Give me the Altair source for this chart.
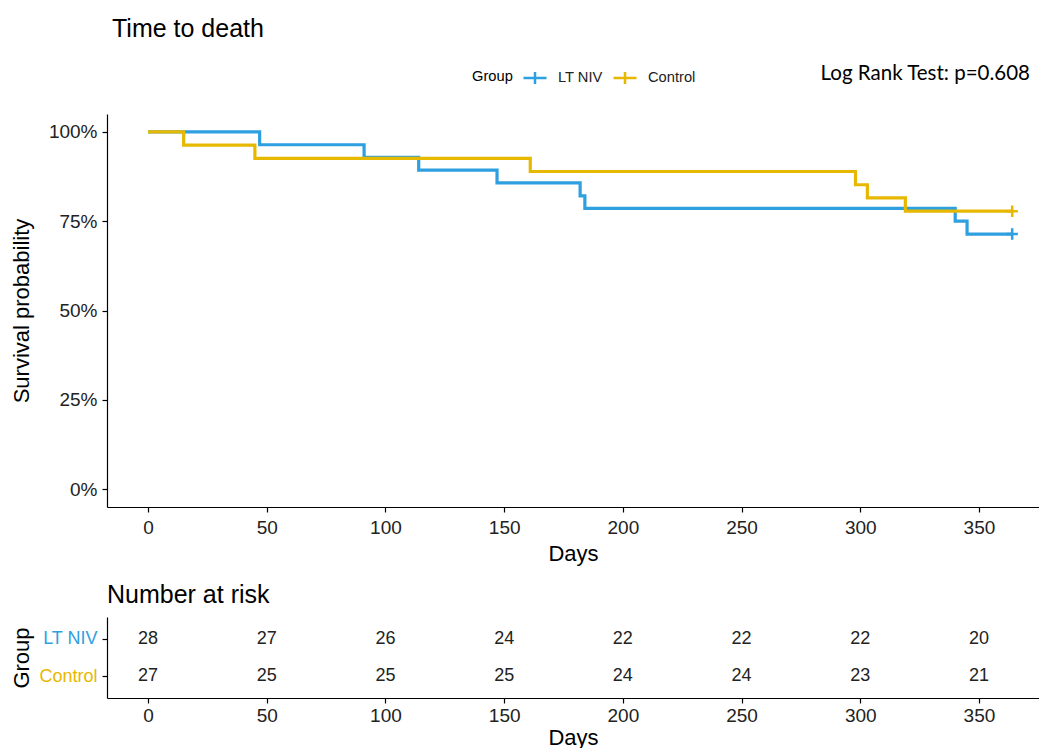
import altair as alt
import pandas as pd

# ---------------- data ----------------
groups = ["LT NIV", "Control"]
group_colors = ["#2E9FDF", "#E7B800"]

lt_days = [0, 47, 91, 114, 147, 182, 184, 340, 345, 364]
lt_surv = [1.0, 0.964, 0.929, 0.893, 0.857, 0.821, 0.786, 0.750, 0.714, 0.714]

ctl_days = [0, 15, 45, 161, 298, 303, 319, 364]
ctl_surv = [1.0, 0.963, 0.926, 0.889, 0.852, 0.815, 0.778, 0.778]

censor_group = ["LT NIV", "Control"]
censor_days = [364, 364]
censor_surv = [0.714, 0.778]

risk_days = [0, 50, 100, 150, 200, 250, 300, 350]
lt_risk = [28, 27, 26, 24, 22, 22, 22, 20]
ctl_risk = [27, 25, 25, 25, 24, 24, 23, 21]

y_ticks = [0, 0.25, 0.5, 0.75, 1.0]
chart_title = "Time to death"
risk_title = "Number at risk"
logrank_label = ["Log Rank Test: p=0.608"]

# ---------------- tables ----------------
curve_df = pd.concat([
    pd.DataFrame({"group": "LT NIV", "days": lt_days, "surv": lt_surv}),
    pd.DataFrame({"group": "Control", "days": ctl_days, "surv": ctl_surv}),
], ignore_index=True)
censor_df = pd.DataFrame({"group": censor_group, "days": censor_days, "surv": censor_surv})
risk_df = pd.concat([
    pd.DataFrame({"group": "LT NIV", "days": risk_days, "n": lt_risk}),
    pd.DataFrame({"group": "Control", "days": risk_days, "n": ctl_risk}),
], ignore_index=True)
note_df = pd.DataFrame({"label": logrank_label})

FONT = "Liberation Sans"
W = 932
x_scale = alt.Scale(domain=[-17.3, 375.3], nice=False, zero=False)
color_scale = alt.Scale(domain=groups, range=group_colors)

def x_axis(label_pad, title_pad):
    return alt.Axis(values=risk_days, title="Days", labelFontSize=19, titleFontSize=22,
                    labelPadding=label_pad, titlePadding=title_pad, tickSize=5, grid=False,
                    titleFontWeight="normal")

lines = alt.Chart(curve_df).mark_line(interpolate="step-after", strokeWidth=3.2).encode(
    x=alt.X("days:Q", scale=x_scale, axis=x_axis(6, 6)),
    y=alt.Y("surv:Q", scale=alt.Scale(domain=[-0.05, 1.05], nice=False, zero=False),
            axis=alt.Axis(values=y_ticks, format=".0%", title="Survival probability",
                          labelFontSize=19, titleFontSize=22, tickSize=5, labelPadding=5,
                          grid=False, titleFontWeight="normal", titleX=-86,
                          titleBaseline="middle")),
    color=alt.Color("group:N", scale=color_scale,
                    legend=alt.Legend(title="Group", orient="none", direction="horizontal",
                                      titleOrient="left", legendX=365, legendY=-49,
                                      symbolType="M-1,0H1M0,-0.52V0.52", symbolSize=530,
                                      symbolStrokeWidth=2.5, labelFontSize=14.7,
                                      titleFontSize=14.7, titleFontWeight="normal",
                                      columnPadding=5, labelOffset=10, titlePadding=9,
                                      titleBaseline="middle")),
)

censors = alt.Chart(censor_df).mark_point(shape="M-1,0H1M0,-1V1", size=130, filled=False,
                                           strokeWidth=2.5, opacity=1).encode(
    x=alt.X("days:Q", scale=x_scale),
    y=alt.Y("surv:Q"),
    color=alt.Color("group:N", scale=color_scale),
)

note = alt.Chart(note_df).mark_text(align="right", baseline="middle", font="Lato",
                                    fontSize=20.5, color="black").encode(
    text="label:N",
    x=alt.value(923),
    y=alt.value(-40),
)

main = alt.layer(lines, censors, note).properties(
    width=W, height=393,
    title=alt.TitleParams(chart_title, anchor="start", frame="group", fontSize=25,
                          fontWeight="normal", font=FONT, dx=5, offset=22),
)

risk = alt.Chart(risk_df).mark_text(fontSize=18, color="#222222", font=FONT).encode(
    x=alt.X("days:Q", scale=x_scale, axis=x_axis(3, 2)),
    y=alt.Y("group:N", sort=groups,
            scale=alt.Scale(type="point", domain=groups, padding=0.58),
            axis=alt.Axis(title="Group", labelFontSize=18, titleFontSize=22, tickSize=5,
                          labelPadding=5, titleFontWeight="normal", titleX=-86,
                          titleBaseline="middle",
                          labelColor={"condition": {"test": "datum.value == 'LT NIV'",
                                                    "value": group_colors[0]},
                                      "value": group_colors[1]})),
    text="n:Q",
).properties(
    width=W, height=81,
    title=alt.TitleParams(risk_title, anchor="start", frame="group", fontSize=25,
                          fontWeight="normal", font=FONT, offset=9),
)

chart = alt.vconcat(main, risk, spacing=19).properties(
    padding={"left": 2, "top": 9, "right": 0, "bottom": 0}
).configure_view(stroke=None).configure_axis(
    domainColor="black", tickColor="black", labelColor="#222222", titleColor="black",
    labelFont=FONT, titleFont=FONT, domainWidth=1.2, tickWidth=1.2,
).configure_legend(labelFont=FONT, titleFont=FONT, labelColor="#222222", titleColor="black")

chart.save("out.html", embed_options={"renderer": "svg", "actions": False})
